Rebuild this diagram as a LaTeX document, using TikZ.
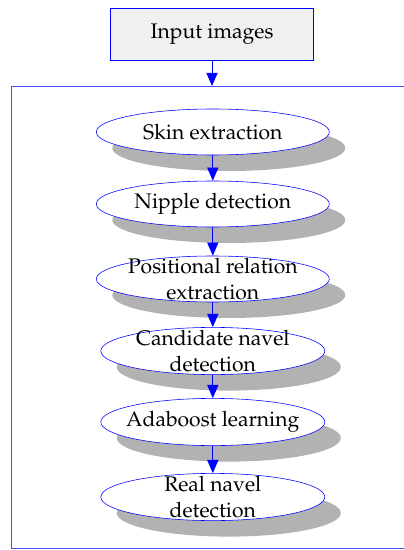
\documentclass[tikz,border=0pt]{standalone}
\usepackage[T1]{fontenc}
\usepackage{mathpazo}
\usetikzlibrary{shapes.geometric,shadows,arrows.meta}
\begin{document}
\begin{tikzpicture}
\tikzstyle{stage}=[draw=blue,ellipse,fill=white,inner sep=0pt,
minimum width=5.825cm,minimum height=1.15cm,
drop shadow={shadow xshift=0.4cm,shadow yshift=-0.4cm,fill=black!30,opacity=1}]
\tikzstyle{every label}=[font=\fontsize{15}{19}\selectfont,align=center,inner sep=0pt]
\tikzstyle{flow}=[blue,line width=0.6pt,-{Triangle[length=0.33cm,width=0.28cm]}]
\useasboundingbox (0,0) rectangle (10.075,-13.75);

\node (input) at (5.3,-0.85) [draw=blue,fill=black!6,minimum width=5.075cm,
minimum height=1.3cm,font=\fontsize{15}{19}\selectfont] {Input images};
\node (frame) at (0.275,-2.15) [draw=blue!70,line width=0.9pt,anchor=north west,
minimum width=10.2cm,minimum height=11.55cm] {};
\draw [flow] (input) to (input.south |- frame.north);

\draw (5.32,-3.3) node (skin) [stage,label=center:Skin extraction] {};
\draw (5.32,-5.1) node (nipple) [stage,label=center:Nipple detection] {};
\draw (5.32,-6.975) node (posrel) [stage,label={center:Positional relation\\extraction}] {};
\draw (5.32,-8.775) node (cand) [stage,minimum width=5.6cm,minimum height=1.18cm,
label={center:Candidate navel\\detection}] {};
\draw (5.32,-10.55) node (ada) [stage,minimum width=5.6cm,minimum height=1.18cm,
label=center:Adaboost learning] {};
\draw (5.32,-12.425) node (real) [stage,minimum width=5.6cm,minimum height=1.18cm,
label={center:Real navel\\detection}] {};

\draw [flow] (skin) to (nipple);
\draw [flow] (nipple) to (posrel);
\draw [flow] (posrel) to (cand);
\draw [flow] (cand) to (ada);
\draw [flow] (ada) to (real);
\end{tikzpicture}
\end{document}
